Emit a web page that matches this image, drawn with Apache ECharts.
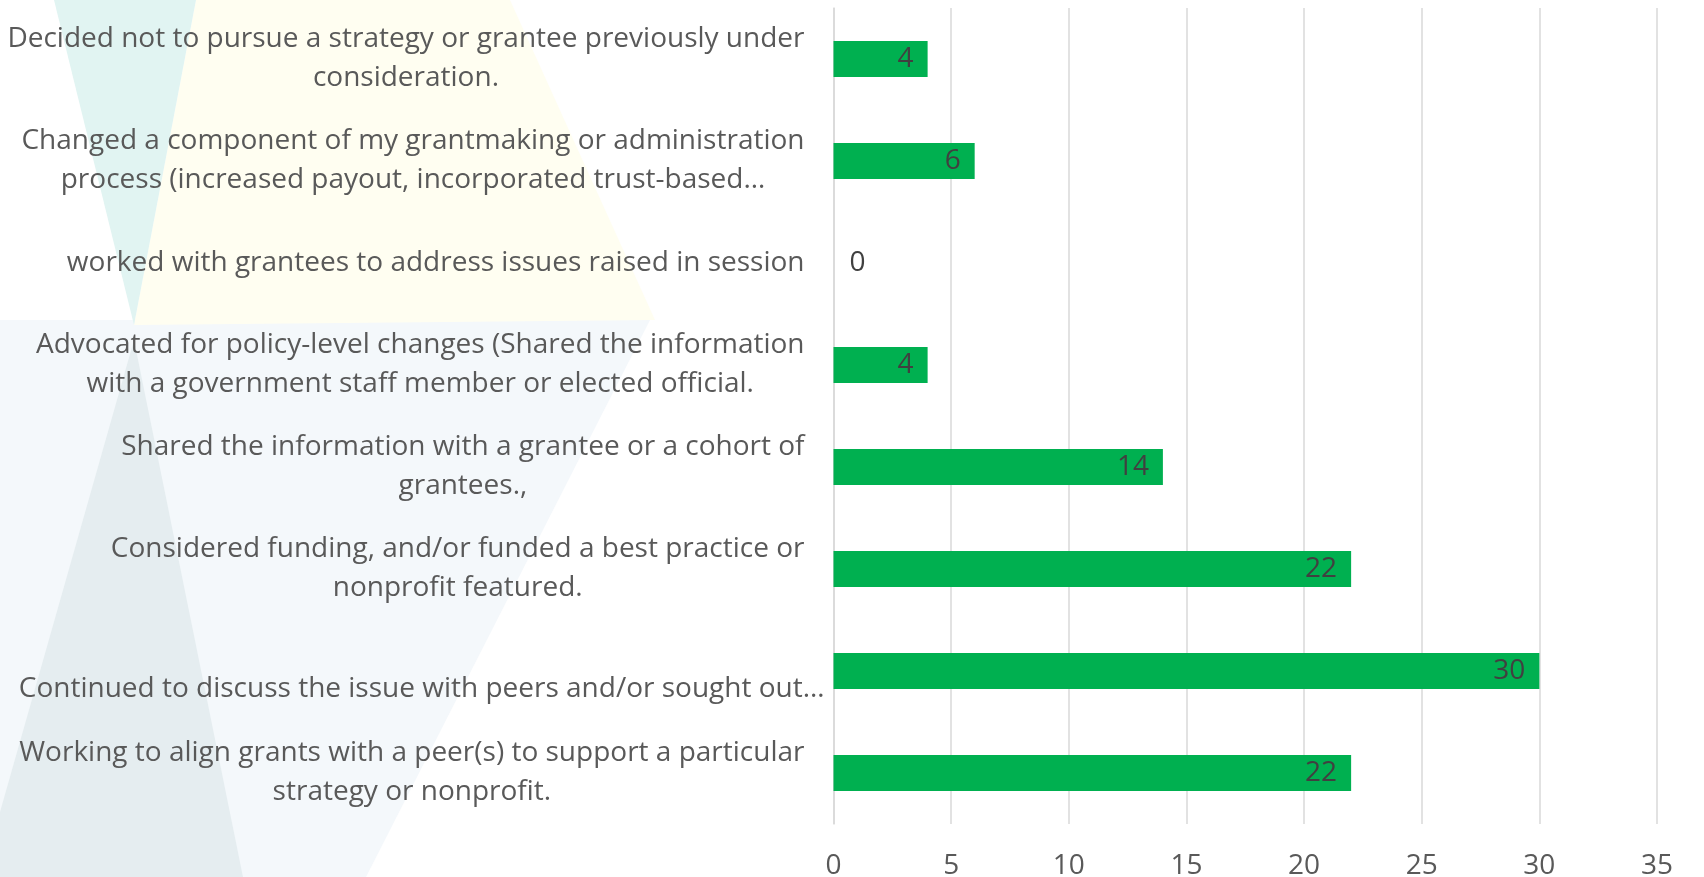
<!DOCTYPE html>
<html>
<head>
<meta charset="utf-8">
<script src="https://cdn.jsdelivr.net/npm/echarts@6/dist/echarts.min.js"></script>
<style>
  html, body { margin: 0; padding: 0; background: #ffffff; }
  #chart { width: 1704px; height: 877px; }
</style>
</head>
<body>
<div id="chart"></div>
<script>
// chart data
const categories = [
  'Decided not to pursue a strategy or grantee previously under\nconsideration.',
  'Changed a component of my grantmaking or administration\nprocess (increased payout, incorporated trust-based…',
  'worked with grantees to address issues raised in session',
  'Advocated for policy-level changes (Shared the information\nwith a government staff member or elected official.',
  'Shared the information with a grantee or a cohort of\ngrantees.,',
  'Considered funding, and/or funded a best practice or\nnonprofit featured.',
  'Continued to discuss the issue with peers and/or sought out…',
  'Working to align grants with a peer(s) to support a particular\nstrategy or nonprofit.'
]
const counts = [4, 6, 0, 4, 14, 22, 30, 22]
const axisMin = 0
const axisMax = 35
const axisStep = 5

const FONT = '"Open Sans", "Noto Sans", sans-serif'
const FONT_SIZE = 28
const chart = echarts.init(document.getElementById('chart'))

// faint watermark shapes behind the chart
const watermark = [
  { points: [[0, 320], [650, 320], [366, 877], [0, 877]], fill: '#f4f8fb' },
  { points: [[134, 340], [243, 877], [0, 877], [0, 812]], fill: '#e5edf0' },
  { points: [[196, 0], [510, 0], [655, 320], [134, 325]], fill: '#fffef1' },
  { points: [[54, 0], [196, 0], [134, 325]], fill: '#e1f4f2' }
]

const labelStyle = (extra) => Object.assign({
  align: 'center',
  lineHeight: 39,
  fontSize: FONT_SIZE,
  fontFamily: FONT,
  color: '#595959'
}, extra)

chart.setOption({
  backgroundColor: '#ffffff',
  animation: false,
  graphic: watermark.map(w => ({
    type: 'polygon',
    silent: true,
    z: -10,
    shape: { points: w.points },
    style: { fill: w.fill }
  })),
  grid: {
    left: 833.5,
    right: 47,
    top: 8,
    bottom: 53,
    containLabel: false,
    outerBoundsMode: 'none'
  },
  xAxis: {
    type: 'value',
    min: axisMin,
    max: axisMax,
    interval: axisStep,
    axisLine: { show: false },
    axisTick: { show: false },
    splitLine: {
      show: true,
      lineStyle: { color: '#d9d9d9', width: 1.5 }
    },
    axisLabel: {
      margin: 28,
      color: '#595959',
      fontSize: FONT_SIZE,
      fontFamily: FONT
    }
  },
  yAxis: {
    type: 'category',
    inverse: true,
    data: categories,
    axisLine: { show: true, lineStyle: { color: '#d9d9d9', width: 1.5 } },
    axisTick: { show: false },
    axisLabel: {
      interval: 0,
      margin: 9,
      color: '#595959',
      fontSize: FONT_SIZE,
      fontFamily: FONT,
      formatter: (value, index) => {
        // the 7th label sits a bit lower and further right, as in the source
        const key = index === 6 ? 'shift' : 'norm'
        return value.split('\n').map(line => '{' + key + '|' + line + '}').join('\n')
      },
      rich: {
        norm: labelStyle({ padding: [0, 20, 0, 0] }),
        shift: labelStyle({ padding: [37, 0, 0, 0] })
      }
    }
  },
  series: [{
    type: 'bar',
    barWidth: 36,
    itemStyle: { color: '#00b050' },
    label: {
      show: true,
      position: 'insideRight',
      distance: 14,
      color: '#404040',
      fontSize: FONT_SIZE,
      fontFamily: FONT
    },
    data: counts.map(v => v === 0 ? { value: v, label: { position: 'right', distance: 16 } } : v)
  }]
})
</script>
</body>
</html>
